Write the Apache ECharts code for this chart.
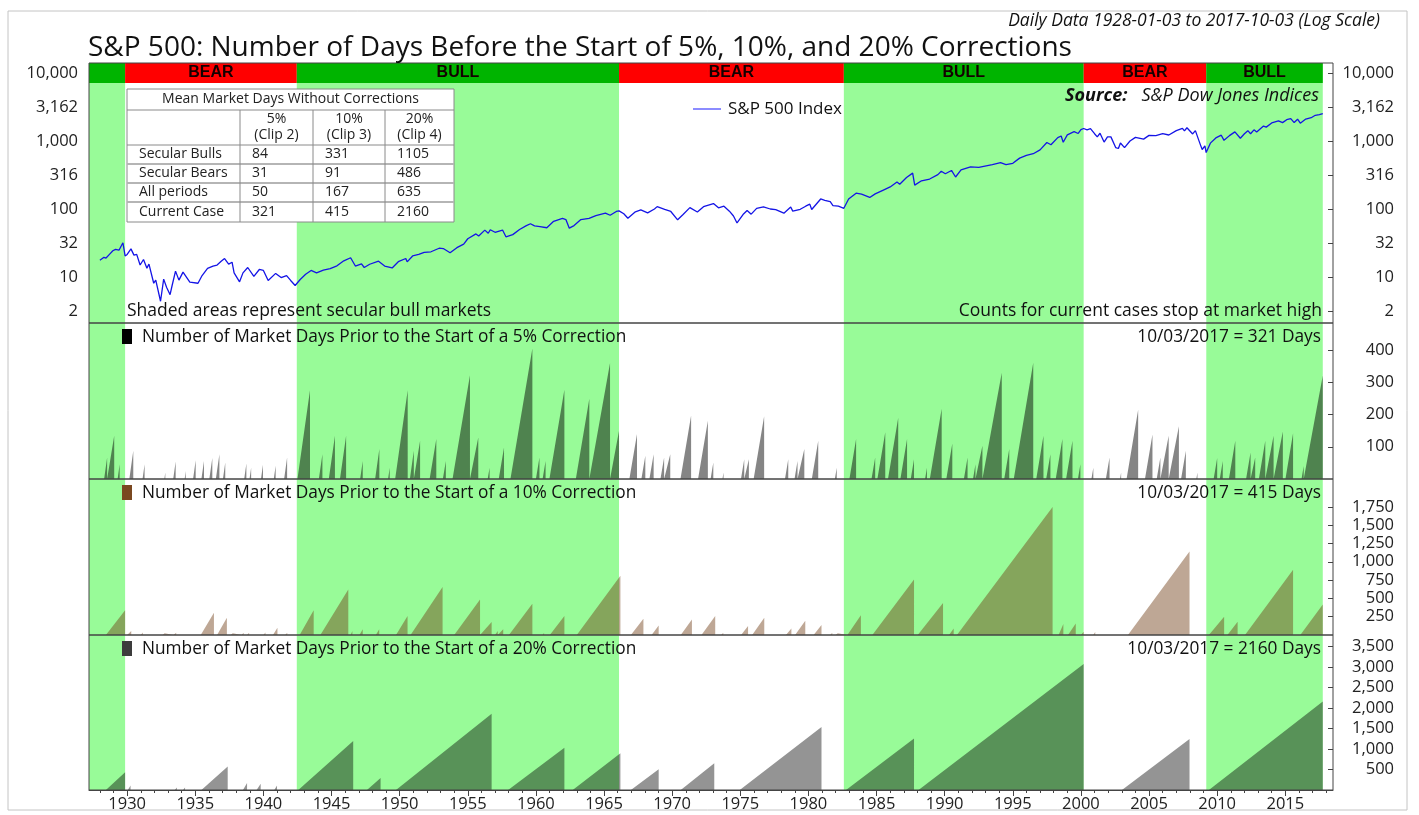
<!DOCTYPE html>
<html>
<head>
<meta charset="utf-8">
<script src="https://cdn.jsdelivr.net/npm/echarts@6/dist/echarts.min.js"></script>
<style>
  html, body { margin: 0; padding: 0; background: #fff; }
  #chart { width: 1419px; height: 815px; }
</style>
</head>
<body>
<div id="chart"></div>
<script>
// secular regimes (decimal years)
const regimeStart = [1927.2, 1929.85, 1942.45, 1966.1, 1982.6, 2000.2, 2009.2]
const regimeEnd = [1929.85, 1942.45, 1966.1, 1982.6, 2000.2, 2009.2, 2017.75]
const regimeName = ['', 'BEAR', 'BULL', 'BEAR', 'BULL', 'BEAR', 'BULL']

// S&P 500 index: [year, level]
const spx = [
  [1928.0, 17.6], [1928.3, 19.5], [1928.45, 19.0], [1928.7, 21.5], [1928.95, 24.3], [1929.15, 25.5],
  [1929.4, 24.8], [1929.69, 31.9], [1929.85, 20.4], [1930.0, 21.5], [1930.28, 25.9], [1930.5, 21.0],
  [1930.7, 21.5], [1930.95, 15.0], [1931.2, 18.1], [1931.45, 13.5], [1931.6, 15.5], [1931.95, 8.1],
  [1932.1, 9.0], [1932.45, 4.4], [1932.68, 9.3], [1932.9, 7.0], [1933.15, 5.5], [1933.3, 7.5],
  [1933.55, 12.2], [1933.8, 9.0], [1934.1, 11.8], [1934.6, 8.4], [1935.2, 8.1], [1935.5, 10.5],
  [1935.9, 13.4], [1936.3, 14.5], [1936.6, 15.0], [1936.9, 17.0], [1937.15, 18.7], [1937.45, 15.5],
  [1937.7, 16.5], [1937.85, 11.5], [1938.25, 8.5], [1938.5, 11.5], [1938.85, 13.8], [1939.3, 10.2],
  [1939.7, 12.9], [1940.0, 12.5], [1940.35, 8.9], [1940.9, 11.3], [1941.3, 9.8], [1941.7, 10.5],
  [1942.0, 8.9], [1942.33, 7.5], [1942.7, 9.2], [1943.1, 11.0], [1943.5, 12.5], [1943.9, 11.5],
  [1944.4, 12.6], [1944.9, 13.3], [1945.4, 14.6], [1945.9, 17.3], [1946.4, 19.2], [1946.75, 14.5],
  [1947.2, 15.6], [1947.4, 13.8], [1947.8, 15.4], [1948.45, 17.1], [1948.9, 14.5], [1949.45, 13.6],
  [1949.9, 16.8], [1950.45, 18.7], [1950.55, 16.7], [1950.95, 20.4], [1951.4, 21.5], [1951.8, 23.0],
  [1952.3, 23.5], [1952.9, 26.5], [1953.2, 26.2], [1953.7, 22.7], [1954.2, 27.0], [1954.7, 30.5],
  [1955.0, 36.5], [1955.6, 43.0], [1955.8, 40.0], [1956.25, 48.9], [1956.5, 44.0], [1956.65, 49.6],
  [1957.0, 45.5], [1957.55, 49.0], [1957.8, 39.0], [1958.3, 42.0], [1958.8, 50.0], [1959.3, 57.0],
  [1959.6, 60.7], [1959.9, 56.5], [1960.3, 55.0], [1960.8, 53.0], [1961.3, 66.0], [1961.95, 72.6],
  [1962.2, 70.0], [1962.45, 52.3], [1962.8, 57.0], [1963.3, 70.0], [1963.9, 73.0], [1964.4, 80.0],
  [1965.1, 87.0], [1965.45, 81.0], [1965.9, 92.0], [1966.1, 94.0], [1966.45, 85.0], [1966.75, 73.2],
  [1967.3, 91.0], [1967.7, 97.0], [1968.2, 87.7], [1968.7, 100.0], [1968.9, 108.4], [1969.45, 99.0],
  [1969.9, 92.0], [1970.4, 69.3], [1970.8, 83.0], [1971.3, 104.8], [1971.85, 90.2], [1972.3, 108.0],
  [1973.03, 120.2], [1973.4, 104.0], [1973.8, 110.0], [1974.2, 93.0], [1974.5, 79.0], [1974.76, 62.3],
  [1975.2, 83.0], [1975.5, 95.2], [1975.8, 84.0], [1976.2, 102.0], [1976.7, 107.8], [1977.2, 100.0],
  [1977.6, 98.0], [1978.2, 86.9], [1978.7, 106.9], [1978.85, 93.0], [1979.4, 99.0], [1979.8, 110.0],
  [1980.1, 118.0], [1980.24, 98.2], [1980.9, 140.5], [1981.2, 134.0], [1981.6, 128.0], [1981.8, 112.0],
  [1982.2, 110.0], [1982.6, 102.4], [1982.95, 140.0], [1983.5, 171.0], [1983.9, 165.0], [1984.5, 147.8],
  [1984.9, 167.0], [1985.5, 190.0], [1986.0, 211.0], [1986.5, 250.0], [1986.7, 231.0], [1987.2, 290.0],
  [1987.65, 336.8], [1987.8, 224.8], [1988.3, 260.0], [1988.9, 276.0], [1989.5, 320.0], [1989.75, 359.8],
  [1990.05, 330.0], [1990.5, 368.9], [1990.8, 295.5], [1991.2, 375.0], [1991.9, 417.0], [1992.5, 410.0],
  [1993.5, 451.0], [1994.1, 482.0], [1994.5, 450.0], [1995.0, 470.0], [1995.5, 560.0], [1996.0, 616.0],
  [1996.5, 650.0], [1997.0, 740.0], [1997.5, 950.0], [1997.8, 880.0], [1998.3, 1120.0], [1998.55, 1186.0],
  [1998.7, 957.0], [1999.0, 1230.0], [1999.5, 1375.0], [1999.8, 1290.0], [2000.0, 1470.0], [2000.2, 1527.0],
  [2000.45, 1460.0], [2000.7, 1520.0], [2001.0, 1280.0], [2001.2, 1150.0], [2001.4, 1300.0], [2001.7, 965.0],
  [2001.95, 1150.0], [2002.2, 1150.0], [2002.55, 800.0], [2002.75, 776.0], [2002.9, 935.0], [2003.2, 800.0],
  [2003.6, 1000.0], [2004.0, 1130.0], [2004.6, 1065.0], [2005.0, 1210.0], [2005.5, 1200.0], [2006.0, 1280.0],
  [2006.45, 1225.0], [2007.0, 1420.0], [2007.45, 1530.0], [2007.6, 1410.0], [2007.78, 1565.0], [2008.2, 1270.0],
  [2008.4, 1420.0], [2008.75, 900.0], [2008.9, 750.0], [2009.1, 850.0], [2009.19, 676.5], [2009.5, 930.0],
  [2009.9, 1110.0], [2010.3, 1217.0], [2010.5, 1022.0], [2010.9, 1200.0], [2011.3, 1363.0], [2011.7, 1099.0],
  [2012.0, 1280.0], [2012.25, 1419.0], [2012.45, 1278.0], [2012.7, 1460.0], [2012.9, 1355.0], [2013.4, 1660.0],
  [2013.6, 1600.0], [2014.0, 1840.0], [2014.1, 1741.0], [2014.5, 1980.0], [2014.8, 1862.0], [2015.1, 2060.0],
  [2015.4, 2130.0], [2015.65, 1867.0], [2015.9, 2090.0], [2016.1, 1829.0], [2016.5, 2100.0], [2016.9, 2200.0],
  [2017.2, 2390.0], [2017.5, 2450.0], [2017.75, 2534.0]
]

// day counts before each correction: [count starts, correction starts, days]
const days5 = [
  [1928.31, 1928.53, 67], [1928.6, 1929.05, 134], [1929.3, 1929.45, 46], [1930.16, 1930.45, 88],
  [1931.13, 1931.28, 46], [1932.73, 1932.8, 20], [1933.38, 1933.56, 54], [1934.22, 1934.3, 25],
  [1934.84, 1935.03, 58], [1935.45, 1935.64, 56], [1936.03, 1936.25, 65], [1936.51, 1936.77, 77],
  [1937.03, 1937.2, 51], [1938.59, 1938.75, 48], [1938.98, 1939.1, 35], [1939.82, 1939.97, 44],
  [1940.76, 1940.9, 41], [1941.52, 1941.74, 67], [1942.5, 1943.42, 275], [1944.07, 1944.33, 77],
  [1944.8, 1945.25, 134], [1945.62, 1946.07, 134], [1947.1, 1947.29, 56], [1948.2, 1948.51, 93],
  [1949.15, 1949.27, 35], [1949.67, 1950.59, 275], [1950.75, 1951.04, 88], [1951.1, 1951.5, 119],
  [1952.2, 1952.69, 124], [1953.17, 1953.39, 56], [1953.88, 1955.16, 322], [1955.26, 1955.77, 129],
  [1956.46, 1956.6, 35], [1957.27, 1957.66, 98], [1958.13, 1959.74, 405], [1960.0, 1960.26, 67],
  [1960.49, 1960.71, 56], [1960.99, 1962.09, 277], [1962.93, 1963.92, 249], [1964.01, 1965.44, 360],
  [1965.5, 1966.1, 150], [1966.86, 1967.42, 140], [1967.74, 1968.03, 72], [1968.33, 1968.64, 77],
  [1969.14, 1969.41, 67], [1969.55, 1969.86, 77], [1970.61, 1971.39, 197], [1971.9, 1972.62, 181],
  [1972.82, 1973.02, 51], [1973.69, 1973.77, 20], [1975.05, 1975.29, 61], [1975.39, 1975.63, 61],
  [1975.98, 1976.75, 195], [1978.28, 1978.52, 61], [1978.98, 1979.2, 56], [1979.33, 1979.7, 93],
  [1980.25, 1980.72, 119], [1981.94, 1982.08, 35], [1983.01, 1983.5, 124], [1984.63, 1984.9, 67],
  [1985.06, 1985.64, 145], [1985.84, 1986.59, 190], [1986.75, 1987.24, 124], [1987.51, 1987.75, 61],
  [1988.56, 1988.7, 35], [1988.91, 1989.78, 218], [1990.12, 1990.56, 110], [1991.41, 1991.68, 67],
  [1992.08, 1992.26, 46], [1992.4, 1992.77, 103], [1992.88, 1994.19, 330], [1994.37, 1994.74, 93],
  [1995.07, 1996.5, 361], [1996.72, 1997.25, 134], [1997.45, 1997.76, 77], [1998.15, 1998.64, 124],
  [1998.91, 1999.38, 119], [1999.78, 1999.96, 46], [2000.77, 2000.91, 35], [2001.83, 2002.1, 67],
  [2002.87, 2002.95, 20], [2003.35, 2004.2, 215], [2004.7, 2005.25, 138], [2005.56, 2005.83, 67],
  [2005.91, 2006.44, 134], [2006.54, 2007.19, 164], [2007.35, 2007.7, 88], [2008.47, 2008.55, 20],
  [2009.74, 2010.0, 65], [2010.19, 2010.41, 56], [2010.86, 2011.33, 119], [2012.12, 2012.45, 82],
  [2012.52, 2012.79, 67], [2013.06, 2013.53, 119], [2013.61, 2014.14, 134], [2014.24, 2014.82, 147],
  [2015.01, 2015.57, 142], [2016.19, 2016.35, 40], [2016.48, 2017.75, 321]
]

const days10 = [
  [1928.44, 1929.85, 339], [1930.0, 1930.3, 54], [1931.0, 1931.15, 35], [1932.6, 1932.75, 25],
  [1933.4, 1933.6, 30], [1934.0, 1934.1, 25], [1934.5, 1934.6, 25], [1935.4, 1936.37, 303],
  [1936.6, 1937.32, 235], [1937.6, 1937.75, 25], [1938.4, 1938.55, 30], [1938.8, 1938.95, 30],
  [1939.2, 1939.3, 25], [1940.0, 1940.15, 35], [1940.7, 1941.03, 100], [1941.6, 1941.75, 30],
  [1942.66, 1943.69, 339], [1944.18, 1946.23, 620], [1946.4, 1946.53, 54], [1947.05, 1947.29, 77],
  [1948.25, 1948.5, 77], [1949.73, 1950.58, 258], [1950.8, 1953.15, 655], [1954.0, 1955.9, 484],
  [1955.98, 1956.75, 176], [1957.0, 1957.2, 54], [1957.3, 1957.6, 77], [1958.02, 1959.74, 425],
  [1960.5, 1960.6, 30], [1961.02, 1962.09, 258], [1962.5, 1962.6, 20], [1963.0, 1966.2, 809],
  [1966.97, 1967.89, 221], [1968.49, 1969.01, 131], [1970.63, 1971.45, 212], [1972.15, 1973.16, 258],
  [1973.6, 1973.75, 30], [1974.2, 1974.3, 25], [1975.06, 1975.57, 122], [1975.87, 1976.76, 235],
  [1978.35, 1978.75, 90], [1979.02, 1979.77, 194], [1980.38, 1980.96, 136], [1981.6, 1981.75, 30],
  [1982.0, 1982.15, 25], [1982.86, 1983.85, 271], [1984.69, 1987.75, 759], [1988.02, 1989.88, 438],
  [1990.32, 1990.66, 90], [1990.9, 1997.92, 1749], [1998.36, 1998.71, 149], [1999.05, 1999.62, 158],
  [2000.0, 2000.2, 45], [2000.9, 2001.05, 40], [2002.1, 2002.2, 25], [2003.45, 2007.97, 1139],
  [2008.6, 2008.7, 20], [2009.39, 2010.51, 249], [2010.75, 2011.5, 181], [2012.04, 2015.57, 890],
  [2015.85, 2015.95, 25], [2016.1, 2017.75, 415]
]

const days20 = [
  [1928.44, 1929.85, 435], [1930.05, 1930.25, 110], [1931.1, 1931.2, 30], [1932.7, 1932.8, 40],
  [1933.5, 1933.65, 60], [1934.1, 1934.25, 60], [1935.45, 1937.38, 572], [1938.5, 1938.8, 170],
  [1939.5, 1939.8, 150], [1940.8, 1941.0, 110], [1942.56, 1946.59, 1193], [1947.6, 1948.6, 290],
  [1949.73, 1956.75, 1862], [1957.96, 1962.09, 1032], [1962.7, 1966.2, 895], [1966.97, 1969.01, 508],
  [1970.63, 1973.09, 653], [1974.96, 1980.96, 1539], [1982.76, 1987.75, 1257], [1988.08, 2000.2, 3071],
  [2002.0, 2002.05, 40], [2003.01, 2007.97, 1241], [2009.0, 2009.05, 20], [2009.39, 2017.75, 2160]
]

// axis ticks
const yearTicks = [1930, 1935, 1940, 1945, 1950, 1955, 1960, 1965, 1970, 1975, 1980, 1985, 1990, 1995, 2000, 2005, 2010, 2015]
const logTicks = [3.162, 10, 31.62, 100, 316.2, 1000, 3162, 10000]
const logTickLabels = ['2', '10', '32', '100', '316', '1,000', '3,162', '10,000']
const ticks5 = [100, 200, 300, 400]
const ticks10 = [250, 500, 750, 1000, 1250, 1500, 1750]
const ticks20 = [500, 1000, 1500, 2000, 2500, 3000, 3500]

// summary table
const tableTitle = 'Mean Market Days Without Corrections'
const tableCols = ['5%\n(Clip 2)', '10%\n(Clip 3)', '20%\n(Clip 4)']
const tableRows = ['Secular Bulls', 'Secular Bears', 'All periods', 'Current Case']
const tableValues = [[84, 331, 1105], [31, 91, 486], [50, 167, 635], [321, 415, 2160]]

const panelTitles = [
  'Number of Market Days Prior to the Start of a 5% Correction',
  'Number of Market Days Prior to the Start of a 10% Correction',
  'Number of Market Days Prior to the Start of a 20% Correction'
]
const panelNotes = ['10/03/2017 = 321 Days', '10/03/2017 = 415 Days', '10/03/2017 = 2160 Days']

const FONT = '"Open Sans", "Noto Sans", sans-serif'
const X0 = 1927.2
const X1 = 2018.5
const minorYears = []
for (let y = 1928; y <= 2018; y++) minorYears.push(y)

function sawPoints(cycles) {
  const pts = []
  cycles.forEach(c => {
    pts.push([c[0], 0], [c[1], c[2]], [c[1], 0])
  })
  return pts
}

const bullShade = {
  silent: true,
  itemStyle: { color: '#98fb98' },
  data: regimeStart.map((s, i) => [{ xAxis: s }, { xAxis: regimeEnd[i] }]).filter((d, i) => regimeName[i] !== 'BEAR')
}

const bandArea = {
  silent: true,
  label: { show: true, position: 'inside', color: '#140000', fontWeight: 'bold', fontSize: 16, fontFamily: 'Liberation Sans, Arial, sans-serif' },
  data: regimeStart.map((s, i) => [
    { name: regimeName[i], xAxis: s, itemStyle: { color: regimeName[i] === 'BEAR' ? '#ff0000' : '#00b400' } },
    { xAxis: regimeEnd[i] }
  ])
}

function grid(top, height, show) {
  return { left: 89, right: 86, top, height, show, borderColor: '#444', borderWidth: 1, backgroundColor: 'transparent', z: 5 }
}

function xAx(gridIndex) {
  return { type: 'value', gridIndex, min: X0, max: X1, show: false }
}

function panelY(gridIndex, max, ticks) {
  return {
    type: 'value', gridIndex, position: 'right', min: 0, max,
    axisLine: { show: false }, splitLine: { show: false },
    axisTick: { show: true, inside: true, length: 5, customValues: ticks, lineStyle: { color: '#444' } },
    axisLabel: { customValues: ticks, formatter: v => v.toLocaleString('en-US'), align: 'right', margin: 61, fontSize: 16.5, color: '#222', fontFamily: FONT }
  }
}

function logLabel(v) {
  for (let i = 0; i < logTicks.length; i++) {
    if (Math.abs(v - logTicks[i]) / logTicks[i] < 0.01) return logTickLabels[i]
  }
  return ''
}

function logY(position) {
  return {
    type: 'log', logBase: 10, gridIndex: 1, position, min: 2.107, max: 14030,
    axisLine: { show: false }, splitLine: { show: false }, minorTick: { show: false },
    axisTick: { show: position === 'right', inside: true, length: 5, customValues: logTicks, lineStyle: { color: '#444' } },
    axisLabel: {
      customValues: logTicks, formatter: logLabel, fontSize: 16.5, color: '#222', fontFamily: FONT,
      align: 'right', margin: position === 'right' ? 61 : 11
    }
  }
}

function areaSeries(idx, cycles, color) {
  return {
    type: 'line', xAxisIndex: idx, yAxisIndex: idx, data: sawPoints(cycles),
    showSymbol: false, symbol: 'none', lineStyle: { width: 0 }, areaStyle: { color, opacity: 1 },
    markArea: bullShade
  }
}

function txt(x, y, text, font, align, fill) {
  return {
    type: 'text', x, y, z: 20, silent: true,
    style: { text, font, fill: fill || '#111', align: align || 'left', textAlign: align || 'left', verticalAlign: 'middle', textVerticalAlign: 'middle' }
  }
}

// table drawing
const colEdges = [127, 240, 313, 385, 454]
const rowEdges = [89, 110, 145, 164, 183, 202, 222]
const tableEls = [{ type: 'rect', shape: { x: colEdges[0], y: rowEdges[0], width: colEdges[4] - colEdges[0], height: rowEdges[6] - rowEdges[0] }, style: { fill: '#fff', stroke: '#8a8a8a', lineWidth: 1 }, z: 20 }]
for (let r = 1; r < rowEdges.length - 1; r++) {
  tableEls.push({ type: 'line', z: 21, shape: { x1: colEdges[0], y1: rowEdges[r], x2: colEdges[4], y2: rowEdges[r] }, style: { stroke: r >= 3 ? '#b5b5b5' : '#8a8a8a', lineWidth: r >= 3 ? 2 : 1 } })
}
for (let c = 1; c < colEdges.length - 1; c++) {
  tableEls.push({ type: 'line', z: 21, shape: { x1: colEdges[c], y1: rowEdges[1], x2: colEdges[c], y2: rowEdges[6] }, style: { stroke: '#8a8a8a', lineWidth: 1 } })
}
const TF = '14px ' + FONT
tableEls.push(txt((colEdges[0] + colEdges[4]) / 2, (rowEdges[0] + rowEdges[1]) / 2, tableTitle, TF, 'center', '#222'))
tableCols.forEach((t, c) => {
  const el = txt((colEdges[c + 1] + colEdges[c + 2]) / 2, (rowEdges[1] + rowEdges[2]) / 2, t, TF, 'center', '#222')
  el.style.lineHeight = 16
  tableEls.push(el)
})
tableRows.forEach((name, r) => {
  const yc = (rowEdges[r + 2] + rowEdges[r + 3]) / 2
  tableEls.push(txt(colEdges[0] + 12, yc, name, TF, 'left', '#222'))
  tableValues[r].forEach((v, c) => tableEls.push(txt(colEdges[c + 1] + 12, yc, String(v), TF, 'left', '#222')))
})

const panelY0 = [337, 493, 649]
const squareColors = ['#000000', '#7a4820', '#3c3c3c']
const panelEls = []
panelTitles.forEach((t, i) => {
  panelEls.push({ type: 'rect', z: 20, shape: { x: 122, y: panelY0[i] - 8, width: 10, height: 15 }, style: { fill: squareColors[i] } })
  panelEls.push(txt(142, panelY0[i], t, '17.3px ' + FONT))
  panelEls.push(txt(1321, panelY0[i], panelNotes[i], '17.3px ' + FONT, 'right'))
})

const option = {
  animation: false,
  backgroundColor: '#fff',
  grid: [
    grid(63, 20, false),
    grid(63, 260, true),
    grid(323, 156, true),
    grid(479, 156, true),
    grid(635, 155, true)
  ],
  xAxis: [
    xAx(0), xAx(1), xAx(2), xAx(3),
    {
      type: 'value', gridIndex: 4, min: X0, max: X1, position: 'bottom',
      axisLine: { show: true, lineStyle: { color: '#444' } }, splitLine: { show: false },
      axisTick: { show: true, customValues: minorYears, length: 3, lineStyle: { color: '#444' } },
      axisLabel: { customValues: yearTicks, formatter: v => String(v), fontSize: 16.5, color: '#222', fontFamily: FONT, margin: 6 }
    },
    {
      type: 'value', gridIndex: 4, min: X0, max: X1, position: 'bottom',
      axisLine: { show: false }, splitLine: { show: false },
      axisTick: { show: true, customValues: yearTicks, length: 6, lineStyle: { color: '#444' } },
      axisLabel: { show: false }
    }
  ],
  yAxis: [
    { type: 'value', gridIndex: 0, min: 0, max: 1, show: false },
    logY('right'),
    panelY(2, 484, ticks5),
    panelY(3, 2130, ticks10),
    panelY(4, 3780, ticks20),
    logY('left')
  ],
  series: [
    {
      name: 'S&P 500 Index', type: 'line', xAxisIndex: 1, yAxisIndex: 1, data: spx,
      showSymbol: false, symbol: 'none', lineStyle: { color: '#1414e6', width: 1.3 }, z: 4,
      markArea: bullShade
    },
    areaSeries(2, days5, 'rgba(0,0,0,0.48)'),
    areaSeries(3, days10, 'rgba(110,60,20,0.45)'),
    areaSeries(4, days20, 'rgba(0,0,0,0.42)'),
    {
      type: 'line', xAxisIndex: 0, yAxisIndex: 0, data: [[X0, 0]], showSymbol: false, symbol: 'none',
      lineStyle: { opacity: 0 }, markArea: bandArea
    }
  ],
  graphic: [
    { type: 'rect', z: 0, silent: true, shape: { x: 8, y: 11, width: 1399, height: 799 }, style: { fill: 'none', stroke: '#c4c4c4', lineWidth: 1 } },
    txt(88, 48, 'S&P 500: Number of Days Before the Start of 5%, 10%, and 20% Corrections', '28px ' + FONT),
    txt(1380, 21, 'Daily Data 1928-01-03 to 2017-10-03 (Log Scale)', 'italic 17.5px ' + FONT, 'right'),
    {
      type: 'text', x: 1319, y: 96, z: 20, silent: true,
      style: {
        text: '{b|Source:}   {i|S&P Dow Jones Indices}', align: 'right', textAlign: 'right', verticalAlign: 'middle', textVerticalAlign: 'middle',
        fill: '#111', font: 'italic 18px ' + FONT,
        rich: { b: { font: 'italic bold 18px ' + FONT, fill: '#111' }, i: { font: 'italic 18px ' + FONT, fill: '#111' } }
      }
    },
    { type: 'line', z: 20, silent: true, shape: { x1: 693, y1: 109, x2: 721, y2: 109 }, style: { stroke: '#8c8cff', lineWidth: 2 } },
    txt(728, 109, 'S&P 500 Index', '17px ' + FONT),
    txt(127, 311, 'Shaded areas represent secular bull markets', '17.5px ' + FONT),
    txt(1322, 311, 'Counts for current cases stop at market high', '17.5px ' + FONT, 'right'),
    { type: 'group', children: tableEls },
    { type: 'group', children: panelEls }
  ]
}

const chart = echarts.init(document.getElementById('chart'))
chart.setOption(option)
</script>
</body>
</html>
